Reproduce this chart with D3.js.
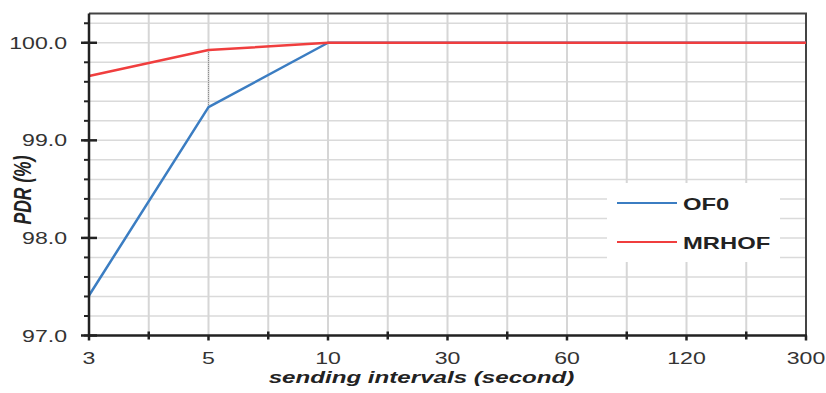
<!DOCTYPE html>
<html>
<head>
<meta charset="utf-8">
<script src="https://cdn.jsdelivr.net/npm/d3@7"></script>
<style>
  body { margin: 0; background: #fff; }
  svg { display: block; font-family: "Liberation Sans", Arial, sans-serif; }
</style>
</head>
<body>
<div id="chart"></div>
<script>
// chart values
var intervals = ["3", "5", "10", "30", "60", "120", "300"];
var of0 = [97.41, 99.34, 100.0, 100.0, 100.0, 100.0, 100.0];
var mrhof = [99.66, 99.925, 100.0, 100.0, 100.0, 100.0, 100.0];
var yTicks = [97.0, 98.0, 99.0, 100.0];
var seriesNames = ["OF0", "MRHOF"];

var W = 826, H = 393;
var sx = 1.4; // text in the picture is stretched horizontally

var svg = d3.select("#chart").append("svg").attr("width", W).attr("height", H);

var plotL = 89, plotR = 806, plotT = 13.5, plotB = 335.5;

var x = d3.scalePoint().domain(intervals).range([plotL, plotR]).padding(0);
var xStep = x.step();
var y = d3.scaleLinear().domain([97, 100.3]).range([plotB, plotT]);
var color = d3.scaleOrdinal().domain(seriesNames).range(["#3b7dc2", "#f03e3e"]);

// grid
var minorY = d3.range(97, 100.31, 0.2);
svg.append("g").selectAll("line").data(minorY).enter().append("line")
    .attr("x1", plotL).attr("x2", plotR)
    .attr("y1", function (d) { return y(d); }).attr("y2", function (d) { return y(d); })
    .attr("stroke", "#dadada").attr("stroke-width", 1.5);

var halfX = d3.range(0, intervals.length - 0.5, 0.5).slice(1);
svg.append("g").selectAll("line").data(halfX).enter().append("line")
    .attr("x1", function (d) { return plotL + d * xStep; })
    .attr("x2", function (d) { return plotL + d * xStep; })
    .attr("y1", plotT).attr("y2", plotB)
    .attr("stroke", "#d6d6d6").attr("stroke-width", 2);

// legend box hides grid
var legend = svg.append("g");
legend.append("rect").attr("x", 607).attr("y", 183).attr("width", 173).attr("height", 79).attr("fill", "#fff");

// frame (top / right)
svg.append("path")
    .attr("d", "M" + plotL + "," + plotT + "H" + plotR + "V" + plotB)
    .attr("fill", "none").attr("stroke", "#444").attr("stroke-width", 2);

// dotted drop line at 5
svg.append("line")
    .attr("x1", x("5")).attr("x2", x("5"))
    .attr("y1", y(mrhof[1])).attr("y2", y(of0[1]))
    .attr("stroke", "#888").attr("stroke-width", 1).attr("stroke-dasharray", "1,1");

// series
var line = d3.line()
    .x(function (d, i) { return x(intervals[i]); })
    .y(function (d) { return y(d); });

[of0, mrhof].forEach(function (s, k) {
    svg.append("path").datum(s)
        .attr("d", line)
        .attr("fill", "none")
        .attr("stroke", color(seriesNames[k]))
        .attr("stroke-width", 2.5)
        .attr("stroke-linejoin", "round");
});

// y axis
var gy = svg.append("g").attr("transform", "translate(" + plotL + ",0)");
gy.append("line").attr("y1", plotT).attr("y2", plotB + 1).attr("stroke", "#222").attr("stroke-width", 2.5);
gy.selectAll(".minor").data(minorY).enter().append("line")
    .attr("x1", -5).attr("x2", 0)
    .attr("y1", function (d) { return y(d); }).attr("y2", function (d) { return y(d); })
    .attr("stroke", "#222").attr("stroke-width", 2);
gy.selectAll(".major").data(yTicks).enter().append("line")
    .attr("x1", -8).attr("x2", 8)
    .attr("y1", function (d) { return y(d); }).attr("y2", function (d) { return y(d); })
    .attr("stroke", "#222").attr("stroke-width", 2.5);
gy.selectAll("text").data(yTicks).enter().append("text")
    .attr("transform", function (d) { return "translate(-22," + (y(d) + 6) + ") scale(" + sx + ",1)"; })
    .attr("text-anchor", "end")
    .attr("font-size", 16.5)
    .attr("fill", "#333")
    .text(function (d) { return d.toFixed(1); });

// x axis
var gx = svg.append("g").attr("transform", "translate(0," + plotB + ")");
gx.append("line").attr("x1", plotL - 1).attr("x2", plotR + 1).attr("stroke", "#222").attr("stroke-width", 2.5);
gx.selectAll(".minor").data(halfX.filter(function (d) { return d % 1 !== 0; })).enter().append("line")
    .attr("x1", function (d) { return plotL + d * xStep; })
    .attr("x2", function (d) { return plotL + d * xStep; })
    .attr("y1", -4).attr("y2", 4)
    .attr("stroke", "#222").attr("stroke-width", 2.5);
gx.selectAll(".major").data(intervals).enter().append("line")
    .attr("x1", function (d) { return x(d); }).attr("x2", function (d) { return x(d); })
    .attr("y1", 0).attr("y2", 5)
    .attr("stroke", "#222").attr("stroke-width", 2.5);
gx.selectAll("text").data(intervals).enter().append("text")
    .attr("transform", function (d) { return "translate(" + x(d) + ",28) scale(" + sx + ",1)"; })
    .attr("text-anchor", "middle")
    .attr("font-size", 16.5)
    .attr("fill", "#333")
    .text(function (d) { return d; });

// axis titles
svg.append("text")
    .attr("transform", "translate(" + ((plotL + plotR) / 2 - 26) + ",383) scale(1.42,1)")
    .attr("text-anchor", "middle")
    .attr("font-size", 17)
    .attr("font-weight", "bold")
    .attr("font-style", "italic")
    .attr("fill", "#222")
    .text("sending intervals (second)");

svg.append("text")
    .attr("transform", "translate(31,190) rotate(-90) scale(1," + sx + ")")
    .attr("text-anchor", "middle")
    .attr("font-size", 17.5)
    .attr("font-weight", "bold")
    .attr("font-style", "italic")
    .attr("fill", "#222")
    .text("PDR (%)");

// legend entries
var items = legend.selectAll(".item").data(seriesNames).enter().append("g")
    .attr("transform", function (d, i) { return "translate(617," + (203 + i * 39) + ")"; });
items.append("line").attr("x1", 0).attr("x2", 60)
    .attr("stroke", function (d) { return color(d); }).attr("stroke-width", 2);
items.append("text")
    .attr("transform", "translate(66,6.5) scale(1.4,1)")
    .attr("font-size", 17)
    .attr("font-weight", "bold")
    .attr("fill", "#222")
    .text(function (d) { return d; });
</script>
</body>
</html>
